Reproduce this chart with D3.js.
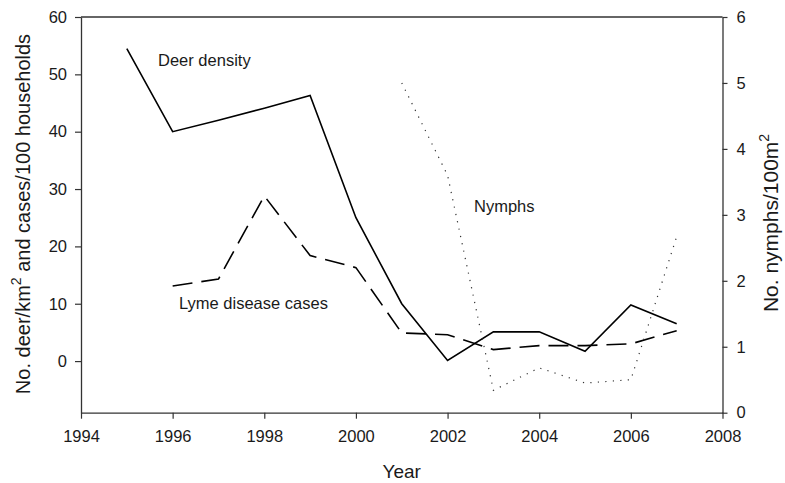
<!DOCTYPE html>
<html><head><meta charset="utf-8">
<script src="https://cdn.jsdelivr.net/npm/d3@7"></script>
<style>body{margin:0;background:#fff;} text{font-family:"Liberation Sans",Arial,sans-serif;fill:#1a1a1a;}</style>
</head><body><svg id="c" width="785" height="483"></svg>
<script>
const years = [1995,1996,1997,1998,1999,2000,2001,2002,2003,2004,2005,2006,2007];
const deerDensity = [54.5,40.0,42.0,44.1,46.3,25.0,10.0,0.1,5.1,5.1,1.7,9.8,6.5];
const lymeYears = [1996,1997,1998,1999,2000,2001,2002,2003,2004,2005,2006,2007];
const lymeCases = [13.1,14.3,28.8,18.4,16.3,4.9,4.6,2.0,2.7,2.7,3.0,5.3];
const nymphYears = [2001,2002,2003,2004,2005,2006,2007];
const nymphs = [5.0,3.6,0.34,0.68,0.45,0.5,2.67];
const xTicks = [1994,1996,1998,2000,2002,2004,2006,2008];
const leftTicks = [0,10,20,30,40,50,60];
const rightTicks = [0,1,2,3,4,5,6];

const svg = d3.select("#c");
const L=81, R=722.5, T=17, B=412.7;
const x = d3.scaleLinear().domain([1994,2008]).range([L,R]);
const yL = d3.scaleLinear().domain([-9,60]).range([B,T]);
const yR = d3.scaleLinear().domain([0,6]).range([B,T]);

function styleAxis(g){
  g.selectAll("path").attr("stroke","#333").attr("stroke-width",1.3);
  g.selectAll("line").attr("stroke","#333").attr("stroke-width",1.2);
  g.selectAll("text").attr("font-size","16.5px").attr("fill","#1a1a1a").attr("font-family","Liberation Sans, Arial, sans-serif");
}
// top border
svg.append("line").attr("x1",L).attr("x2",R).attr("y1",T).attr("y2",T).attr("stroke","#333").attr("stroke-width",1.3);

const gx = svg.append("g").attr("transform",`translate(0,${B})`)
  .call(d3.axisBottom(x).tickValues(xTicks).tickFormat(d3.format("d")).tickSize(6).tickSizeOuter(0).tickPadding(12));
styleAxis(gx);
const gl = svg.append("g").attr("transform",`translate(${L},0)`)
  .call(d3.axisLeft(yL).tickValues(leftTicks).tickFormat(d3.format("d")).tickSize(6).tickSizeOuter(0).tickPadding(8));
styleAxis(gl);
const gr = svg.append("g").attr("transform",`translate(${R},0)`)
  .call(d3.axisRight(yR).tickValues(rightTicks).tickFormat(d3.format("d")).tickSize(5).tickSizeOuter(0).tickPadding(9));
styleAxis(gr);

const lineL = d3.line().x(d=>x(d[0])).y(d=>yL(d[1]));
const lineR = d3.line().x(d=>x(d[0])).y(d=>yR(d[1]));

svg.append("path").datum(years.map((y,i)=>[y,deerDensity[i]]))
  .attr("d",lineL).attr("fill","none").attr("stroke","#000").attr("stroke-width",1.6);
svg.append("path").datum(lymeYears.map((y,i)=>[y,lymeCases[i]]))
  .attr("d",lineL).attr("fill","none").attr("stroke","#000").attr("stroke-width",1.6)
  .attr("stroke-dasharray","20,9");
svg.append("path").datum(nymphYears.map((y,i)=>[y,nymphs[i]]))
  .attr("d",lineR).attr("fill","none").attr("stroke","#333").attr("stroke-width",1.2)
  .attr("stroke-dasharray","1.2,6.3");

// series labels
svg.append("text").attr("x",158).attr("y",66).attr("font-size","16.5px").text("Deer density");
svg.append("text").attr("x",179).attr("y",309).attr("font-size","16.5px").text("Lyme disease cases");
svg.append("text").attr("x",474).attr("y",211.5).attr("font-size","16.5px").text("Nymphs");

// axis titles
svg.append("text").attr("x",(L+R)/2).attr("y",478).attr("text-anchor","middle").attr("font-size","19px").text("Year");
const lt = svg.append("text").attr("transform","translate(30,214) rotate(-90)").attr("text-anchor","middle").attr("font-size","20px");
lt.append("tspan").text("No. deer/km");
lt.append("tspan").attr("dy",-9).attr("font-size","14px").text("2");
lt.append("tspan").attr("dy",9).text(" and cases/100 households");
const rt = svg.append("text").attr("transform","translate(778,223) rotate(-90)").attr("text-anchor","middle").attr("font-size","21px");
rt.append("tspan").text("No. nymphs/100m");
rt.append("tspan").attr("dy",-9).attr("font-size","14px").text("2");
</script></body></html>
